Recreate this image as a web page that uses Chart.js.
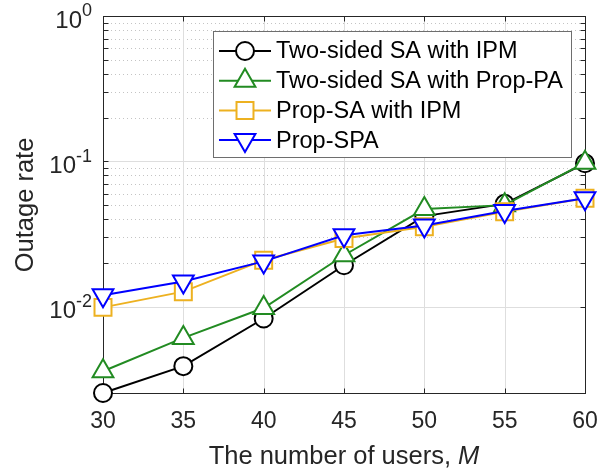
<!DOCTYPE html>
<html>
<head>
<meta charset="utf-8">
<script src="https://cdn.jsdelivr.net/npm/chart.js@4"></script>
<style>
  html, body { margin: 0; padding: 0; background: #fff; }
  canvas { display: block; }
</style>
</head>
<body>
<canvas id="chart" width="612" height="472"></canvas>
<script>
// Values
const users = [30, 35, 40, 45, 50, 55, 60];
const twoSidedIPM = [0.00255, 0.0039, 0.0083, 0.0193, 0.042, 0.051, 0.097];
const twoSidedPropPA = [0.0036, 0.0061, 0.0098, 0.0226, 0.047, 0.050, 0.098];
const propSAIPM = [0.0099, 0.0127, 0.0209, 0.0295, 0.0355, 0.045, 0.0557];
const propSPA = [0.0120, 0.0149, 0.0205, 0.031, 0.0362, 0.0455, 0.0557];
const seriesNames = ['Two-sided SA with IPM', 'Two-sided SA with Prop-PA', 'Prop-SA with IPM', 'Prop-SPA'];
const xTicks = [30, 35, 40, 45, 50, 55, 60];
const yDecades = [-2, -1, 0];
const yMin = 0.00255;
const yMax = 1;

const AXIS = '#262626';
const FONT = '"Liberation Sans", Arial, sans-serif';

function pts(values) {
  return users.map((x, i) => ({ x: x, y: values[i] }));
}

function series(label, values, color, style, radius, rotation, order) {
  return {
    label: label,
    data: pts(values),
    borderColor: color,
    backgroundColor: '#fff',
    borderWidth: 2,
    pointStyle: style,
    pointRadius: radius,
    pointRotation: rotation || 0,
    pointBorderColor: color,
    pointBackgroundColor: '#fff',
    pointBorderWidth: 2,
    tension: 0,
    clip: false,
    order: order
  };
}

// Grid, box and ticks under the data (MATLAB layer bottom)
const axesUnder = {
  id: 'axesUnder',
  beforeDatasetsDraw(chart) {
    const { ctx, chartArea: a, scales: { x, y } } = chart;
    ctx.save();
    ctx.lineWidth = 1;

    // minor dotted y grid
    ctx.strokeStyle = '#c4c4c4';
    ctx.setLineDash([1, 3]);
    yDecades.forEach(d => {
      for (let m = 2; m <= 9; m++) {
        const v = m * Math.pow(10, d);
        if (v < yMin || v > yMax) continue;
        const py = Math.round(y.getPixelForValue(v)) + 0.5;
        ctx.beginPath(); ctx.moveTo(a.left, py); ctx.lineTo(a.right, py); ctx.stroke();
      }
    });
    ctx.setLineDash([]);

    // major grid
    ctx.strokeStyle = '#dedede';
    yDecades.forEach(d => {
      const py = Math.round(y.getPixelForValue(Math.pow(10, d))) + 0.5;
      ctx.beginPath(); ctx.moveTo(a.left, py); ctx.lineTo(a.right, py); ctx.stroke();
    });
    xTicks.forEach(t => {
      const px = Math.round(x.getPixelForValue(t)) + 0.5;
      ctx.beginPath(); ctx.moveTo(px, a.top); ctx.lineTo(px, a.bottom); ctx.stroke();
    });

    // box
    ctx.strokeStyle = AXIS;
    const L = Math.round(a.left) + 0.5, R = Math.round(a.right) + 0.5;
    const T = Math.round(a.top) + 0.5, B = Math.round(a.bottom) + 0.5;
    ctx.strokeRect(L, T, R - L, B - T);

    // ticks (inward, all four sides)
    const tl = 5;
    xTicks.forEach(t => {
      const px = Math.round(x.getPixelForValue(t)) + 0.5;
      ctx.beginPath();
      ctx.moveTo(px, B); ctx.lineTo(px, B - tl);
      ctx.moveTo(px, T); ctx.lineTo(px, T + tl);
      ctx.stroke();
    });
    yDecades.forEach(d => {
      for (let m = 1; m <= 9; m++) {
        const v = m * Math.pow(10, d);
        if (v < yMin || v > yMax) continue;
        const py = Math.round(y.getPixelForValue(v)) + 0.5;
        ctx.beginPath();
        ctx.moveTo(L, py); ctx.lineTo(L + tl, py);
        ctx.moveTo(R, py); ctx.lineTo(R - tl, py);
        ctx.stroke();
      }
    });

    // tick labels
    ctx.fillStyle = AXIS;
    ctx.font = '23px ' + FONT;
    ctx.textAlign = 'center';
    ctx.textBaseline = 'middle';
    xTicks.forEach(t => {
      ctx.fillText(String(t), x.getPixelForValue(t), 421.5);
    });
    yDecades.forEach(d => {
      const py = y.getPixelForValue(Math.pow(10, d));
      const exp = String(d);
      ctx.font = '18px ' + FONT;
      const ew = ctx.measureText(exp).width;
      ctx.textAlign = 'right';
      ctx.fillText(exp, 92, py - 4.5);
      ctx.font = '24px ' + FONT;
      ctx.fillText('10', 92 - ew, py + 5);
    });

    // axis titles
    ctx.textAlign = 'left';
    const main = 'The number of users, ';
    ctx.font = '25.5px ' + FONT;
    const mw = ctx.measureText(main).width;
    ctx.font = 'italic 25.5px ' + FONT;
    const iw = ctx.measureText('M').width;
    const sx = (a.left + a.right) / 2 - (mw + iw) / 2;
    ctx.font = '25.5px ' + FONT;
    ctx.fillText(main, sx, 457);
    ctx.font = 'italic 25.5px ' + FONT;
    ctx.fillText('M', sx + mw, 457);

    ctx.save();
    ctx.translate(26, 205);
    ctx.rotate(-Math.PI / 2);
    ctx.font = '25.5px ' + FONT;
    ctx.textAlign = 'center';
    ctx.fillText('Outage rate', 0, 0);
    ctx.restore();

    ctx.restore();
  }
};

// Legend box in the upper right
const legendBox = {
  id: 'legendBox',
  afterDatasetsDraw(chart) {
    const ctx = chart.ctx;
    ctx.save();
    ctx.fillStyle = '#fff';
    ctx.fillRect(213.5, 31.5, 358, 126);
    ctx.strokeStyle = '#6e6e6e';
    ctx.lineWidth = 1;
    ctx.strokeRect(213.5, 31.5, 358, 126);

    chart.data.datasets.forEach((ds, i) => {
      const cy = 51 + i * 29.7;
      ctx.strokeStyle = ds.borderColor;
      ctx.lineWidth = 2;
      ctx.beginPath(); ctx.moveTo(219, cy); ctx.lineTo(271, cy); ctx.stroke();
      ctx.fillStyle = '#fff';
      Chart.helpers.drawPoint(ctx, {
        pointStyle: ds.pointStyle,
        radius: ds.pointRadius,
        rotation: ds.pointRotation,
        borderWidth: 2
      }, 245, cy);
      ctx.fillStyle = '#000';
      ctx.font = '23.5px ' + FONT;
      ctx.textAlign = 'left';
      ctx.textBaseline = 'middle';
      ctx.fillText(ds.label, 276, cy + 1);
    });
    ctx.restore();
  }
};

new Chart(document.getElementById('chart'), {
  type: 'line',
  data: {
    datasets: [
      series(seriesNames[0], twoSidedIPM, '#000000', 'circle', 9, 0, 3),
      series(seriesNames[1], twoSidedPropPA, '#228b22', 'triangle', 12, 0, 2),
      series(seriesNames[2], propSAIPM, '#edb120', 'rect', 12, 0, 1),
      series(seriesNames[3], propSPA, '#0000ff', 'triangle', 12, 180, 0)
    ]
  },
  options: {
    responsive: false,
    animation: false,
    layout: { padding: { left: 0, right: 27, top: 16, bottom: 0 } },
    plugins: { legend: { display: false }, tooltip: { enabled: false } },
    scales: {
      x: {
        type: 'linear', min: 30, max: 60,
        ticks: { display: false }, grid: { display: false }, border: { display: false },
        afterFit(s) { s.height = 79; }
      },
      y: {
        type: 'logarithmic', min: yMin, max: yMax,
        ticks: { display: false }, grid: { display: false }, border: { display: false },
        afterFit(s) { s.width = 103; }
      }
    }
  },
  plugins: [axesUnder, legendBox]
});
</script>
</body>
</html>
